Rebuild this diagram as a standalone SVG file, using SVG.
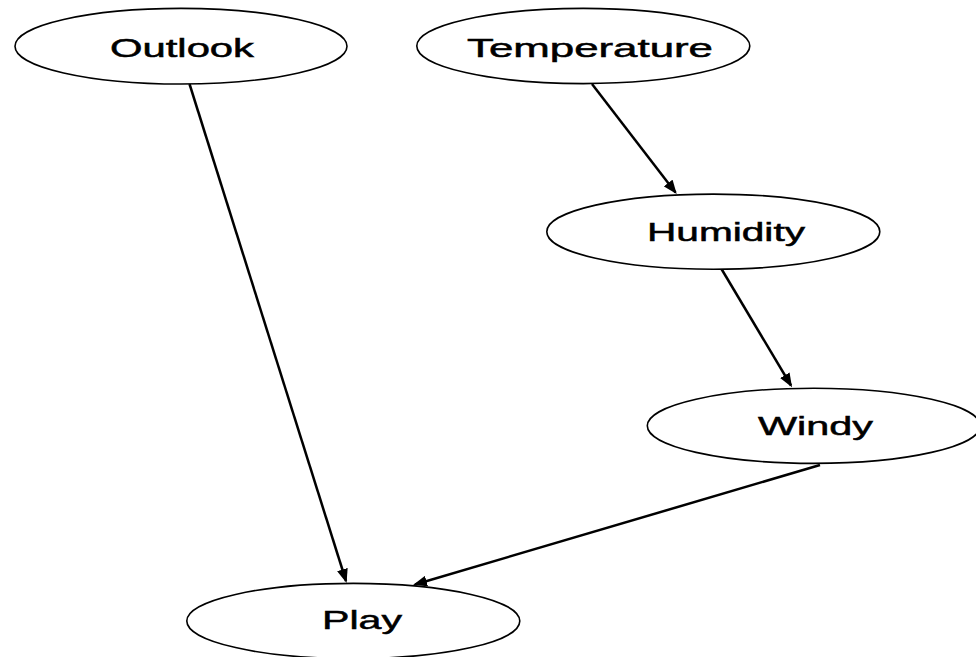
<svg xmlns="http://www.w3.org/2000/svg" width="976" height="657" viewBox="0 0 976 657">
  <defs>
    <style>
      .node ellipse { fill: #ffffff; stroke: #000000; stroke-width: 1.6; }
      .node text { font-family: "Liberation Sans", Arial, sans-serif; font-size: 26px; fill: #000000; stroke: #000000; stroke-width: 0.5; }
      .edge { fill: none; stroke: #000000; stroke-width: 2.5; marker-end: url(#arrow); }
    </style>
    <marker id="arrow" markerUnits="userSpaceOnUse" markerWidth="14" markerHeight="11" refX="12" refY="5.5" orient="auto">
      <path d="M0,0 L14,5.5 L0,11 Z" fill="#000000"/>
    </marker>
  </defs>
  <rect width="976" height="657" fill="#ffffff"/>

  <g id="connectors">
    <path class="edge" d="M189.5,84 L346,581"/>
    <path class="edge" d="M592,84 L675.5,192.5"/>
    <path class="edge" d="M721.5,269 L791,385.5"/>
    <path class="edge" d="M820,465 L415,584.5"/>
  </g>

  <g id="outlook" class="node">
    <ellipse cx="181" cy="46.2" rx="166" ry="37.8"/>
    <text x="110" y="56.5" textLength="144" lengthAdjust="spacingAndGlyphs">Outlook</text>
  </g>
  <g id="temperature" class="node">
    <ellipse cx="583.3" cy="46" rx="166.5" ry="37.6"/>
    <text x="467" y="57" textLength="246" lengthAdjust="spacingAndGlyphs">Temperature</text>
  </g>
  <g id="humidity" class="node">
    <ellipse cx="713.3" cy="231.7" rx="166.5" ry="37.6"/>
    <text x="647" y="241" textLength="158" lengthAdjust="spacingAndGlyphs">Humidity</text>
  </g>
  <g id="windy" class="node">
    <ellipse cx="813.8" cy="425.8" rx="166.5" ry="37.6"/>
    <text x="758" y="434.5" textLength="115" lengthAdjust="spacingAndGlyphs">Windy</text>
  </g>
  <g id="play" class="node">
    <ellipse cx="353.3" cy="621" rx="166.5" ry="37.6"/>
    <text x="322" y="628.5" textLength="80" lengthAdjust="spacingAndGlyphs">Play</text>
  </g>
</svg>
